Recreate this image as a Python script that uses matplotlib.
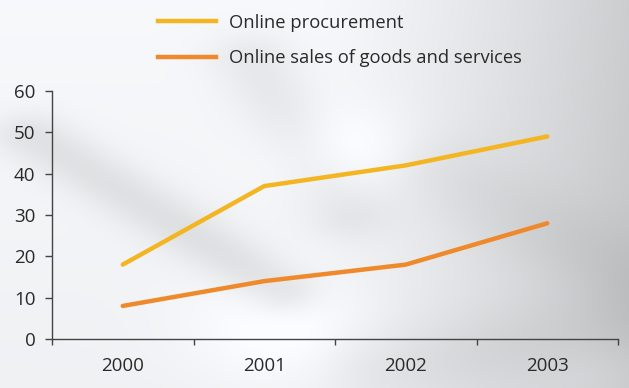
import numpy as np
import matplotlib
matplotlib.use("Agg")
import matplotlib.pyplot as plt
from matplotlib.lines import Line2D

YEARS = ["2000", "2001", "2002", "2003"]
PROCUREMENT = [18, 37, 42, 49]
SALES = [8, 14, 18, 28]
Y_TICKS = [0, 10, 20, 30, 40, 50, 60]

YELLOW = "#f4b522"
ORANGE = "#ef8a2c"
TEXT = "#2a2a2a"

plt.rcParams["font.family"] = ["Open Sans", "DejaVu Sans"]

W, H = 629, 388
fig = plt.figure(figsize=(W / 100, H / 100), dpi=100)

# soft grey backdrop: light on the left, darker toward the right edge
bg = fig.add_axes([0, 0, 1, 1], zorder=-10)
u, v = np.meshgrid(np.linspace(0, 1, 320), np.linspace(0, 1, 200))


def band(x0, y0, x1, y1, width, strength):
    dx, dy = x1 - x0, y1 - y0
    t = np.clip(((u - x0) * dx + (v - y0) * dy) / (dx * dx + dy * dy), 0, 1)
    d = np.hypot(u - (x0 + t * dx), v - (y0 + t * dy))
    return strength * np.exp(-(d / width) ** 2)


def blob(x0, y0, r, strength):
    return strength * np.exp(-((u - x0) ** 2 + (v - y0) ** 2) / r ** 2)


right = np.clip((u - 0.5) / 0.5, 0, 1)
field = 0.985 - 0.17 * right ** 1.3 - 0.03 * v
field -= band(0.05, 0.35, 0.45, 0.75, 0.06, 0.08)
field -= band(0.40, 0.15, 0.55, 0.55, 0.07, 0.06)
field -= band(0.60, 0.95, 1.0, 0.85, 0.10, 0.04)
field -= band(0.70, 0.45, 1.0, 0.70, 0.10, 0.04)
field += blob(0.55, 0.40, 0.12, 0.06)
field += blob(0.45, 0.85, 0.15, 0.05)
field += blob(0.95, 0.95, 0.12, 0.04)
field = np.clip(field, 0, 1)
rgb = np.dstack([field * 0.985, field * 0.99, field])
bg.imshow(np.clip(rgb, 0, 1), aspect="auto", extent=[0, 1, 0, 1], interpolation="bicubic")
bg.axis("off")

ax = fig.add_axes([52 / W, 49 / H, 566 / W, 248 / H])
ax.patch.set_alpha(0)
x = np.arange(len(YEARS))
ax.plot(x, PROCUREMENT, color=YELLOW, lw=3.2, solid_capstyle="round", solid_joinstyle="round")
ax.plot(x, SALES, color=ORANGE, lw=3.2, solid_capstyle="round", solid_joinstyle="round")

ax.set_xlim(-0.5, len(YEARS) - 0.5)
ax.set_ylim(0, 60)
ax.set_yticks(Y_TICKS)
ax.set_xticks(x)
ax.set_xticklabels(YEARS)
ax.set_xticks(np.arange(-0.5, len(YEARS)), minor=True)

for side in ("top", "right"):
    ax.spines[side].set_visible(False)
for side in ("left", "bottom"):
    ax.spines[side].set_color("#444444")
    ax.spines[side].set_linewidth(1.0)

ax.tick_params(axis="y", length=5, width=1, color="#444444", pad=7, labelsize=13.5, labelcolor=TEXT)
ax.tick_params(axis="x", which="major", length=0, pad=13, labelsize=13.5, labelcolor=TEXT)
ax.tick_params(axis="x", which="minor", length=4, width=1, color="#444444")

handles = [
    Line2D([], [], color=YELLOW, lw=3.2),
    Line2D([], [], color=ORANGE, lw=3.2),
]
fig.legend(handles, ["Online procurement", "Online sales of goods and services"],
           loc="upper left", bbox_to_anchor=(141 / W, 1 + 3 / H), frameon=False,
           fontsize=13.2, labelcolor=TEXT, handlelength=3.2, handletextpad=0.7,
           labelspacing=0.98)

fig.savefig("out.png", dpi=100)
